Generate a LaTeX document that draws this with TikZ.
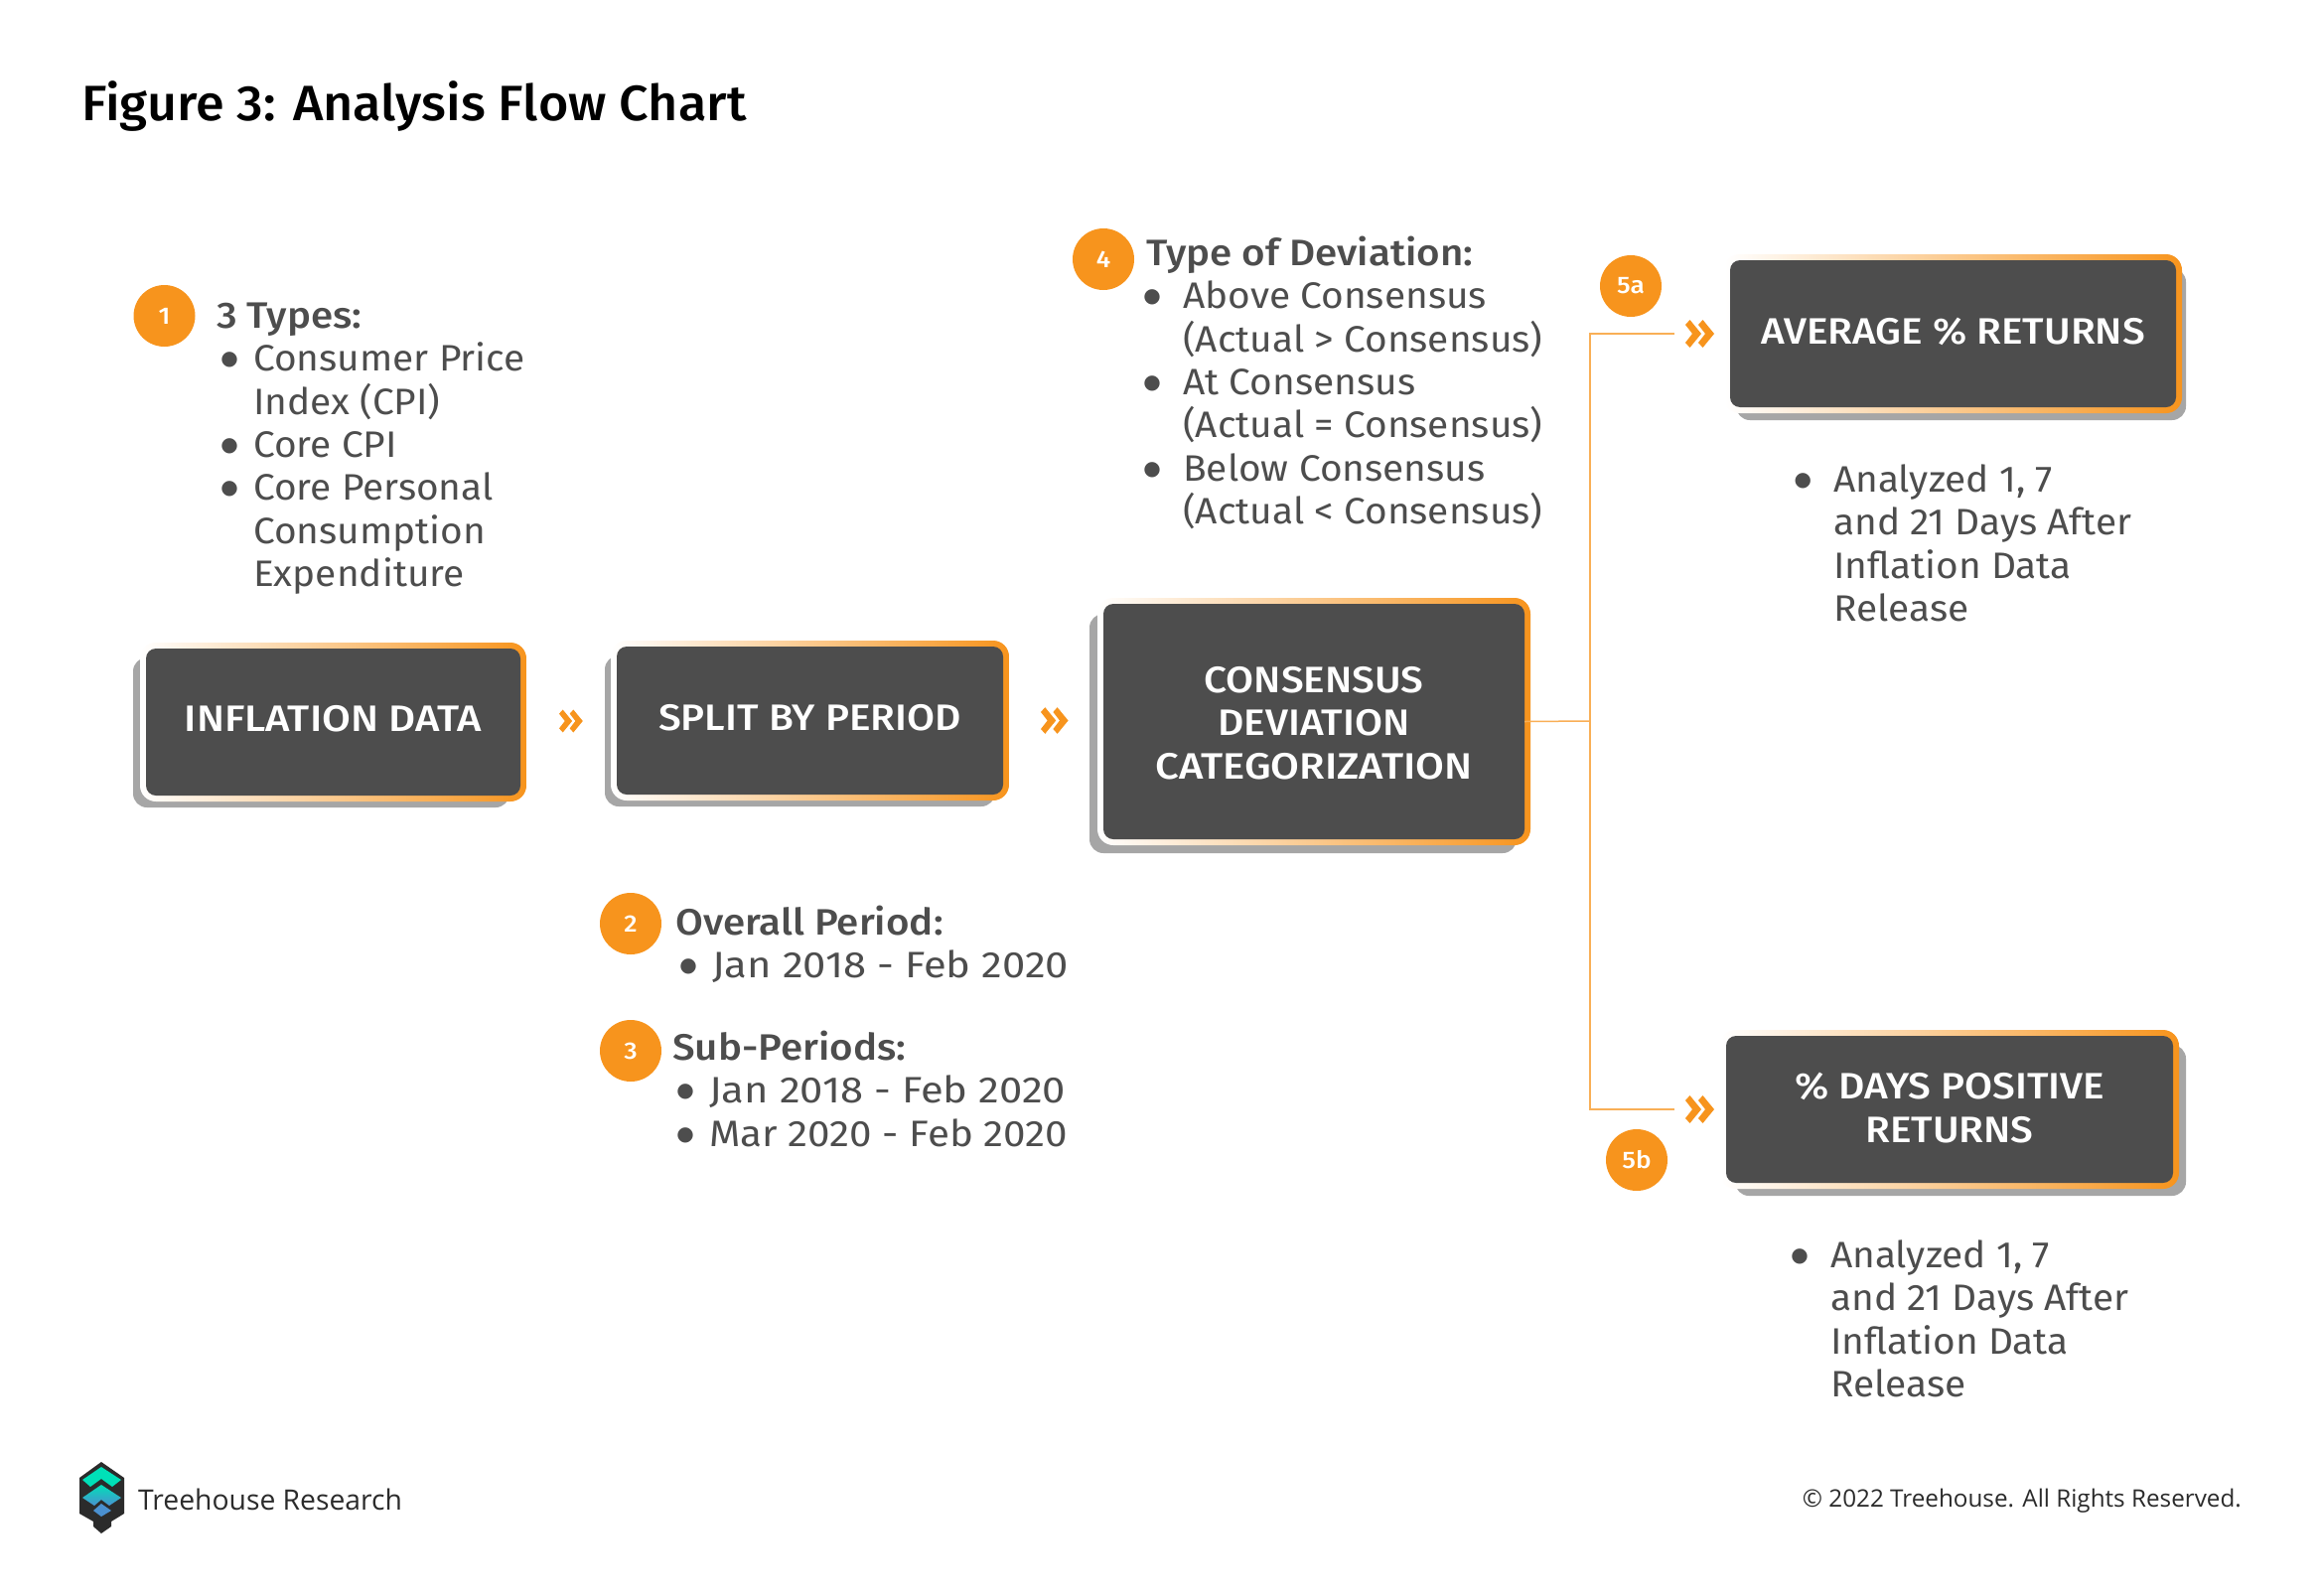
\documentclass[tikz,border=0pt]{standalone}
\usepackage{fontspec}
\setmainfont{Fira Sans}[FakeStretch=1.05,BoldFont={Fira Sans Medium},BoldFeatures={FakeStretch=1.09}]
\newfontfamily\footfont{Open Sans}
\newfontfamily\dotfont{DejaVu Sans}
\newfontfamily\titlefont{Fira Sans Medium}[FakeStretch=1.042]
\newfontfamily\boxfontA{Fira Sans Medium}[FakeStretch=1.13]
\newfontfamily\boxfontB{Fira Sans Medium}[FakeStretch=1.097]
\newfontfamily\janfont{Fira Sans}[FakeStretch=1.128]
\newfontfamily\marfont{Fira Sans}[FakeStretch=1.09]
\definecolor{ink}{HTML}{4D4D4D}
\definecolor{orng}{HTML}{F7941D}
\definecolor{shadowgray}{HTML}{A6A6A6}
\definecolor{teal}{HTML}{00E0B8}
\definecolor{logoblue}{HTML}{4A90D0}
\definecolor{logodark}{HTML}{2B2B2B}
\newcommand\bodysize{\fontsize{37}{43.3}\selectfont}
\newcommand\dotglyph{\smash{\raisebox{6pt}{\dotfont\fontsize{20}{20}\selectfont ●}}}
\newcommand\bul{\makebox[37pt][l]{\hspace{13pt}\makebox[0pt][c]{\dotglyph}}}
\newcommand\bulw{\makebox[37pt][l]{\hspace{6pt}\makebox[0pt][c]{\dotglyph}}}
\newcommand\ind{\hspace*{37pt}}
\newcommand\flowbox[9]{%
  \fill[shadowgray,rounded corners=14pt] (#6,#7) rectangle (#8,#9);
  \shade[left color=white,right color=orng,rounded corners=16pt] (#2-6,#3-6) rectangle (#4+6,#5+6);
  \node[darkbox,minimum width={(#4-#2)*1pt},minimum height={(#5-#3)*1pt}] (#1) at ({(#2+#4)/2},{(#3+#5)/2}) {};}
\newcommand\chevrons[3]{%
  \begin{scope}[shift={(#1,#2)},scale=#3]
    \fill[orng] (0,-9)--(4.5,-14)--(16,0)--(4.5,14)--(0,9)--(7,0)--cycle;
    \fill[orng] (13,-9)--(17.5,-14)--(29,0)--(17.5,14)--(13,9)--(20,0)--cycle;
  \end{scope}}
\tikzset{
  darkbox/.style={fill=ink,rounded corners=10pt,inner sep=0pt,draw=none},
  boxtext/.style={text=white,font=\boxfontB\fontsize{37}{43.3}\selectfont,align=center,inner sep=0pt},
  body/.style={text=ink,font=\bodysize,align=left,anchor=north west,inner sep=0pt},
  badge/.style={circle,fill=orng,text=white,minimum size=62pt,inner sep=0pt,font=\bfseries\fontsize{24}{24}\selectfont},
  conn/.style={draw=orng!75,line width=1.5pt},
}
\begin{document}
\begin{tikzpicture}[x=1pt,y=-1pt]
\useasboundingbox (0,0) rectangle (2336,1606);
\fill[white] (0,0) rectangle (2336,1606);
\node[anchor=base west,inner sep=0pt,font=\titlefont\fontsize{50}{50}\selectfont,text=black] (title) at (82,121) {Figure 3: Analysis Flow Chart};

\flowbox{infl}{147}{653}{524}{801}{134}{662}{513}{813}
\flowbox{split}{621}{651}{1010}{800}{609}{660}{1002}{812}
\flowbox{cons}{1111}{608}{1535}{845}{1097}{618}{1527}{859}
\flowbox{avg}{1742}{262}{2191}{410}{1748}{270}{2201}{423}
\flowbox{days}{1738}{1043}{2188}{1191}{1747}{1052}{2201}{1204}

\node[boxtext,yshift=3pt] (inflT) at (infl.center) {\boxfontA INFLATION DATA};
\node[boxtext,yshift=3pt] (splitT) at (split.center) {SPLIT BY PERIOD};
\node[boxtext,yshift=-1.5pt] (consT) at (cons.center) {CONSENSUS\\DEVIATION\\\boxfontA CATEGORIZATION};
\node[boxtext,yshift=2pt] (avgT) at (avg.center) {AVERAGE \% RETURNS};
\node[boxtext,yshift=1.5pt] (daysT) at (days.center) {\% DAYS POSITIVE\\RETURNS};

\chevrons{563}{726}{.82}
\chevrons{1048}{725.5}{.95}
\chevrons{1697}{336}{1}
\chevrons{1697}{1117}{1}

\coordinate (junction) at (1601,726);
\coordinate (stubA) at (1686,336);
\coordinate (stubB) at (1686,1117);
\draw[conn] (cons.east) -- (junction);
\draw[conn] (stubA) -| (junction);
\draw[conn] (stubB) -| (junction);

\node[badge] (b1) at (165.5,318) {1};
\node[badge] (b2) at (635,930) {2};
\node[badge] (b3) at (635,1058) {3};
\node[badge] (b4) at (1111,261) {4};
\node[badge] (b5a) at (1642,288) {5a};
\node[badge] (b5b) at (1648,1168) {5b};

\node[body] (t1) at (218,300) {\strut\textbf{3 Types:}\\
\bul Consumer Price\\ \ind Index (CPI)\\ \bul Core CPI\\ \bul Core Personal\\ \ind Consumption\\ \ind Expenditure};
\node[body] (t2) at (680,911) {\strut\textbf{Overall Period:}\\ \bul {\janfont Jan 2018 - Feb 2020}};
\node[body] (t3) at (677,1037) {\strut\textbf{Sub-Periods:}\\ \bul {\janfont Jan 2018 - Feb 2020}\\ \bul {\marfont Mar 2020 - Feb 2020}};
\node[body] (t4) at (1154,237) {\strut\textbf{Type of Deviation:}\\
\bulw Above Consensus\\ \ind (Actual > Consensus)\\ \bulw At Consensus\\ \ind (Actual = Consensus)\\ \bulw Below Consensus\\ \ind (Actual < Consensus)};
\node[body] (t5) at (1809,465) {\strut\bulw Analyzed 1, 7\\ \ind and 21 Days After\\ \ind Inflation Data\\ \ind Release};
\node[body] (t6) at (1806,1246) {\strut\bulw Analyzed 1, 7\\ \ind and 21 Days After\\ \ind Inflation Data\\ \ind Release};

% logo
\fill[logodark] (102,1472)--(125,1488)--(125,1524)--(112,1532)--(112,1537)--(102,1544)--(94,1537)--(94,1532)--(80,1524)--(80,1488)--cycle;
\fill[teal] (102,1477)--(122,1490)--(113,1497)--(102,1489)--(91,1497)--(83,1490)--cycle;
\shade[top color=teal,bottom color=logoblue] (102,1495)--(122,1508)--(110,1516)--(102,1510)--(95,1516)--(83,1508)--cycle;
\fill[logoblue] (102,1514)--(112,1521)--(102,1527)--(94,1521)--cycle;
\node[anchor=base west,inner sep=0pt,text=logodark,font=\footfont\fontsize{28.3}{30}\selectfont] (brand) at (139,1520) {Treehouse Research};
\node[anchor=base east,inner sep=0pt,text=logodark,font=\footfont\fontsize{24.25}{26}\selectfont] (copy) at (2257,1517) {© 2022 Treehouse. All Rights Reserved.};
\end{tikzpicture}
\end{document}
